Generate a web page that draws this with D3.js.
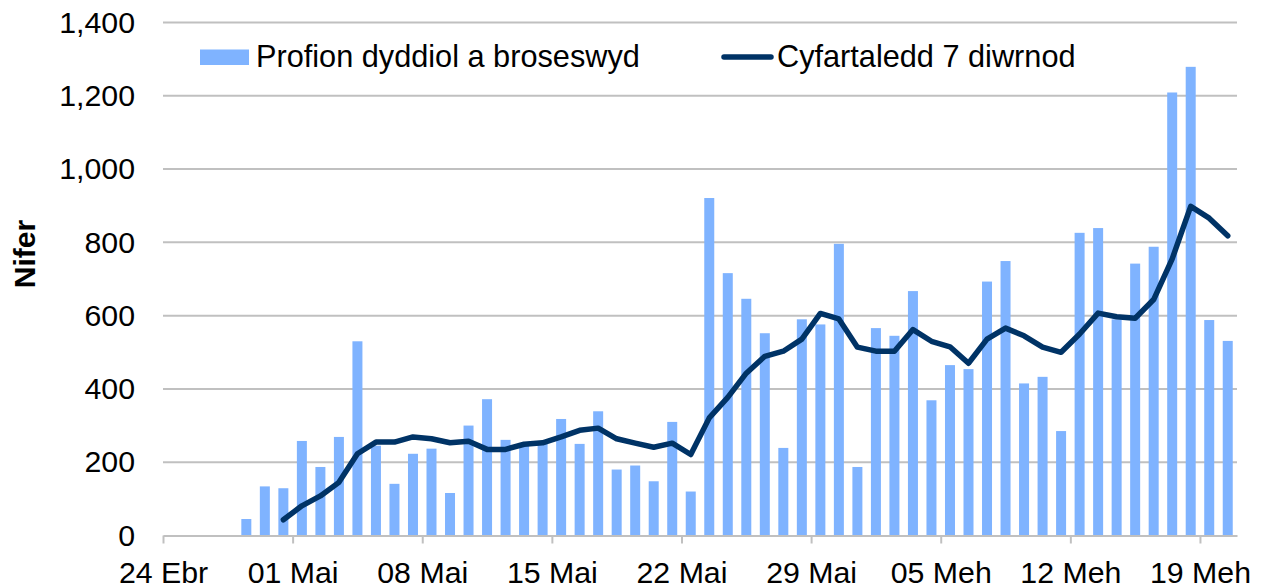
<!DOCTYPE html>
<html>
<head>
<meta charset="utf-8">
<script src="https://cdn.jsdelivr.net/npm/d3@7"></script>
<style>
  html, body { margin: 0; padding: 0; background: #fff; }
  svg { display: block; font-family: "Liberation Sans", Arial, sans-serif; }
</style>
</head>
<body>
<svg id="chart" width="1275" height="587"></svg>
<script>
// ---- Data ----
const startDate = new Date(2020, 3, 24);   // 24 Ebr
const endDate = new Date(2020, 5, 21);     // exclusive: last day 20 Meh
const categories = d3.timeDay.range(startDate, endDate); // 58 days

// Daily tests processed (null = no bar)
const dailyTests = [
  null, null, null, null, 45, 134, 129, 258, 187, 269,
  530, 245, 141, 223, 237, 116, 300, 372, 261, 245,
  250, 318, 250, 339, 180, 191, 148, 310, 120, 921,
  716, 646, 552, 239, 590, 576, 796, 187, 566, 545,
  667, 369, 465, 454, 693, 749, 415, 433, 285, 826,
  839, 590, 742, 788, 1209, 1279, 588, 531
];

// 7-day average (null = not plotted)
const sevenDayAvg = [
  null, null, null, null, null, null, 43, 81, 108, 145,
  223, 255, 255, 269, 264, 253, 257, 235, 235, 249,
  253, 269, 287, 293, 264, 252, 241, 252, 221, 321,
  377, 443, 489, 503, 536, 606, 591, 514, 503, 503,
  562, 530, 515, 470, 536, 566, 545, 514, 500, 550,
  607, 597, 593, 644, 755, 898, 866, 818
];

const tickIndex = [0, 7, 14, 21, 28, 35, 42, 49, 56];
const tickLabels = ["24 Ebr", "01 Mai", "08 Mai", "15 Mai", "22 Mai", "29 Mai", "05 Meh", "12 Meh", "19 Meh"];
const yTicks = [0, 200, 400, 600, 800, 1000, 1200, 1400];

const seriesNames = ["Profion dyddiol a broseswyd", "Cyfartaledd 7 diwrnod"];
const yTitle = "Nifer";

// ---- Layout ----
const plotLeft = 163, plotRight = 1237, plotTop = 22.5, plotBottom = 535.5;
const barColor = "#7fb3ff", lineColor = "#003366", gridColor = "#c0c0c0";

const svg = d3.select("#chart");

const x = d3.scaleBand()
  .domain(categories.map((d, i) => i))
  .range([plotLeft, plotRight])
  .paddingInner(0.46)
  .paddingOuter(0.23);

const xDay = d3.scaleLinear().domain([0, categories.length]).range([plotLeft, plotRight]);

const y = d3.scaleLinear().domain([0, 1400]).range([plotBottom, plotTop]);

// gridlines
svg.append("g")
  .selectAll("line")
  .data(yTicks.filter(t => t > 0))
  .join("line")
  .attr("x1", plotLeft).attr("x2", plotRight)
  .attr("y1", d => y(d)).attr("y2", d => y(d))
  .attr("stroke", gridColor).attr("stroke-width", 2);

// y axis labels
const yAxis = svg.append("g")
  .attr("transform", `translate(${plotLeft},0)`)
  .call(d3.axisLeft(y).tickValues(yTicks).tickFormat(d3.format(",")).tickSize(0).tickPadding(28));
yAxis.select(".domain").remove();
yAxis.selectAll("text").attr("font-size", 30.3).attr("fill", "#000").attr("font-family", "Liberation Sans, Arial, sans-serif");

// bars
const barData = dailyTests.map((v, i) => ({ i, v })).filter(d => d.v != null);
svg.append("g")
  .selectAll("rect")
  .data(barData)
  .join("rect")
  .attr("x", d => x(d.i))
  .attr("width", x.bandwidth())
  .attr("y", d => y(d.v))
  .attr("height", d => y(0) - y(d.v))
  .attr("fill", barColor);

// x axis
const xAxis = svg.append("g")
  .attr("transform", `translate(0,${plotBottom})`)
  .call(d3.axisBottom(xDay).tickValues(tickIndex).tickFormat((d, k) => tickLabels[k]).tickSize(8).tickSizeOuter(0));
xAxis.select(".domain").attr("stroke", gridColor).attr("stroke-width", 2);
xAxis.selectAll(".tick line").attr("stroke", gridColor).attr("stroke-width", 2);
xAxis.selectAll("text")
  .attr("font-size", 30.3).attr("fill", "#000")
  .attr("font-family", "Liberation Sans, Arial, sans-serif")
  .attr("y", 47).attr("dy", 0);

// line
const line = d3.line()
  .defined(d => d.v != null)
  .x(d => x(d.i) + x.bandwidth() / 2)
  .y(d => y(d.v));
svg.append("path")
  .datum(sevenDayAvg.map((v, i) => ({ i, v })))
  .attr("d", line)
  .attr("fill", "none")
  .attr("stroke", lineColor)
  .attr("stroke-width", 5.5)
  .attr("stroke-linejoin", "round")
  .attr("stroke-linecap", "round");

// y title
svg.append("text")
  .attr("transform", "translate(35,254) rotate(-90)")
  .attr("text-anchor", "middle")
  .attr("font-size", 30)
  .attr("font-weight", "bold")
  .attr("fill", "#000")
  .text(yTitle);

// legend
const legend = svg.append("g");
legend.append("rect").attr("x", 200).attr("y", 49.5).attr("width", 49).attr("height", 15.5).attr("fill", barColor);
legend.append("text").attr("x", 256).attr("y", 67).attr("font-size", 30.7).attr("fill", "#000").text(seriesNames[0]);
legend.append("line").attr("x1", 724).attr("x2", 771).attr("y1", 57).attr("y2", 57)
  .attr("stroke", lineColor).attr("stroke-width", 5.5).attr("stroke-linecap", "round");
legend.append("text").attr("x", 777).attr("y", 67).attr("font-size", 30.7).attr("fill", "#000").text(seriesNames[1]);
</script>
</body>
</html>
